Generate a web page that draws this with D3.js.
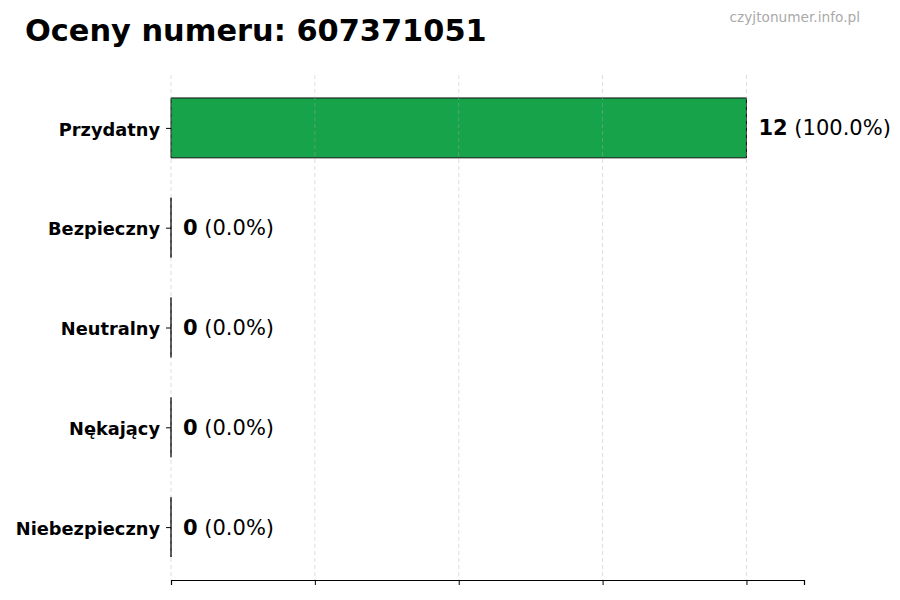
<!DOCTYPE html>
<html>
<head>
<meta charset="utf-8">
<script src="https://cdn.jsdelivr.net/npm/d3@7"></script>
<style>
	body { margin: 0; background: #fff; }
	svg { font-family: "DejaVu Sans", sans-serif; }
</style>
</head>
<body>
<svg id="chart" width="900" height="600"></svg>
<script>
	var categories = ["Przydatny", "Bezpieczny", "Neutralny", "Nękający", "Niebezpieczny"],
		counts = [12, 0, 0, 0, 0],
		xTicks = [0, 3, 6, 9, 12],
		colors = ["#16a34a", "#16a34a", "#16a34a", "#16a34a", "#16a34a"];

	var total = d3.sum(counts);

	var svg = d3.select("#chart"),
		margin = {top: 75, right: 96, bottom: 20, left: 171},
		width = svg.attr("width") - margin.left - margin.right,
		height = svg.attr("height") - margin.top - margin.bottom,
		g = svg.append("g").attr("transform", "translate(" + margin.left + "," + margin.top + ")");

	var x = d3.scaleLinear()
		.domain([0, d3.max(counts) * 1.1])
		.range([0, width]);

	var y = d3.scaleLinear()
		.domain([-0.53, categories.length - 0.47])
		.range([0, height]);

	var barH = 0.6 * (y(1) - y(0));

	// bars (as paths so zero-width bars still show their edge)
	g.append("g")
		.selectAll("path")
		.data(counts)
		.enter().append("path")
		.attr("d", function(d, i) {
			var x0 = x(0), x1 = x(d), y0 = y(i) - barH / 2, y1 = y(i) + barH / 2;
			return "M" + x0 + "," + y0 + "H" + x1 + "V" + y1 + "H" + x0 + "Z";
		})
		.attr("fill", function(d, i) { return colors[i]; })
		.attr("stroke", "#111")
		.attr("stroke-width", 1);

	// grid, faint, drawn over bars
	g.append("g")
		.attr("class", "grid")
		.selectAll("line")
		.data(xTicks)
		.enter().append("line")
		.attr("x1", function(d) { return x(d); })
		.attr("x2", function(d) { return x(d); })
		.attr("y1", 0)
		.attr("y2", height)
		.attr("stroke", "#b0b0b0")
		.attr("stroke-opacity", 0.5)
		.attr("stroke-width", 0.8)
		.attr("stroke-dasharray", "4,3");

	// x axis, no labels
	var xAxis = g.append("g")
		.attr("transform", "translate(0," + height + ")")
		.call(d3.axisBottom(x).tickValues(xTicks).tickFormat("").tickSizeOuter(0).tickSize(5));
	xAxis.select(".domain").attr("stroke", "#000").attr("stroke-width", 1.2);
	xAxis.selectAll(".tick line").attr("stroke", "#000").attr("stroke-width", 1);

	// y axis: ticks + labels, no spine
	var yAxis = g.append("g")
		.call(d3.axisLeft(y)
			.tickValues(d3.range(categories.length))
			.tickFormat(function(i) { return categories[i]; })
			.tickSize(5)
			.tickPadding(6));
	yAxis.select(".domain").remove();
	yAxis.selectAll(".tick line").attr("stroke", "#000");
	yAxis.selectAll(".tick text")
		.attr("fill", "#000")
		.attr("dy", "0.4em")
		.style("font-size", "17.8px")
		.style("font-weight", "bold")
		.style("font-family", "DejaVu Sans");

	// value labels
	var labels = g.append("g")
		.selectAll("text")
		.data(counts)
		.enter().append("text")
		.attr("x", function(d) { return x(d) + 12; })
		.attr("y", function(d, i) { return y(i); })
		.attr("dy", "0.36em")
		.style("font-size", "21px")
		.attr("fill", "#000");

	labels.append("tspan")
		.style("font-weight", "bold")
		.text(function(d) { return d; });
	labels.append("tspan")
		.text(function(d) { return " (" + (total ? d / total * 100 : 0).toFixed(1) + "%)"; });

	// title
	svg.append("text")
		.attr("x", 25)
		.attr("y", 41)
		.style("font-size", "30.4px")
		.style("font-weight", "bold")
		.attr("fill", "#000")
		.text("Oceny numeru: 607371051");

	svg.append("text")
		.attr("x", 860)
		.attr("y", 22)
		.attr("text-anchor", "end")
		.style("font-size", "13.7px")
		.attr("fill", "#aaaaaa")
		.text("czyjtonumer.info.pl");
</script>
</body>
</html>
